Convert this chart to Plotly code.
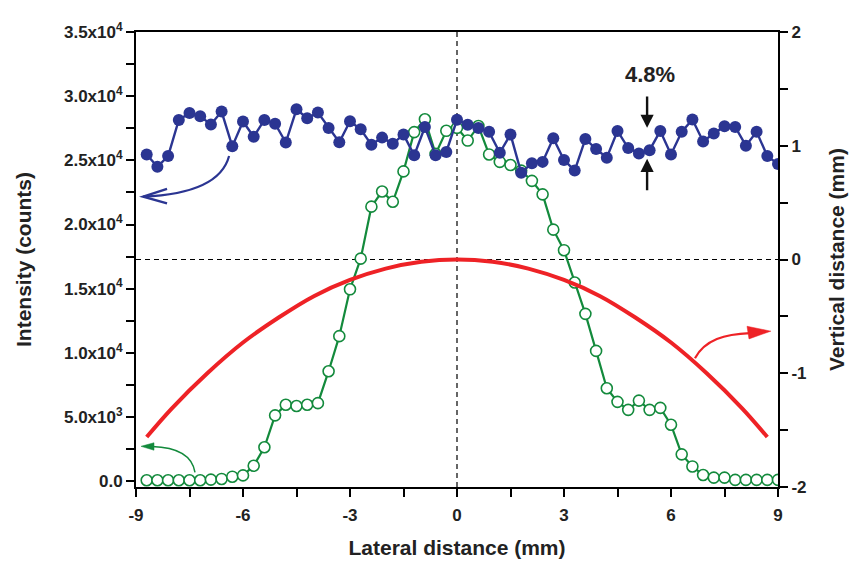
import plotly.graph_objects as go

# ---------------- data ----------------
lateral_mm = [-8.7, -8.4, -8.1, -7.8, -7.5, -7.2, -6.9, -6.6, -6.3, -6.0,
              -5.7, -5.4, -5.1, -4.8, -4.5, -4.2, -3.9, -3.6, -3.3, -3.0,
              -2.7, -2.4, -2.1, -1.8, -1.5, -1.2, -0.9, -0.6, -0.3, 0.0,
              0.3, 0.6, 0.9, 1.2, 1.5, 1.8, 2.1, 2.4, 2.7, 3.0,
              3.3, 3.6, 3.9, 4.2, 4.5, 4.8, 5.1, 5.4, 5.7, 6.0,
              6.3, 6.6, 6.9, 7.2, 7.5, 7.8, 8.1, 8.4, 8.7, 9.0]

intensity_flat = [25460, 24500, 25330, 28150, 28680, 28430, 27800, 28800, 26090, 28030,
                  26840, 28150, 27850, 26390, 28980, 28280, 28730, 27520, 26410, 28050,
                  27420, 26220, 26770, 26290, 27020, 25390, 27600, 25390, 25650, 28160,
                  27770, 27520, 27220, 25590, 27020, 24030, 24780, 24880, 26720, 25030,
                  24200, 26670, 25880, 25210, 27290, 25960, 25540, 25790, 27290, 25460,
                  27220, 28180, 26470, 27090, 27650, 27600, 26140, 27220, 25330, 24710]

intensity_profile = [75, 75, 75, 75, 75, 75, 125, 175, 350, 450,
                     1200, 2640, 5130, 5960, 5860, 5960, 6080, 8570, 11300, 14950,
                     17340, 21390, 22570, 21770, 24140, 27200, 28200, 25500, 27300, 27530,
                     26540, 27670, 25460, 24880, 24640, 24200, 23400, 22350, 19600, 18000,
                     15480, 13040, 10150, 7240, 6180, 5560, 6280, 5560, 5710, 4400,
                     2090, 1150, 480, 280, 280, 100, 100, 100, 100, 100]

curve_x = [-8.7, -8, -7, -6, -5, -4, -3, -2, -1, 0, 1, 2, 3, 4, 5, 6, 7, 8, 8.7]
curve_vertical = [-1.56, -1.31, -1.0, -0.73, -0.51, -0.32, -0.18, -0.08, -0.02, 0.0,
                  -0.02, -0.08, -0.18, -0.32, -0.51, -0.73, -1.0, -1.31, -1.56]

left_tickvals = [0, 5000, 10000, 15000, 20000, 25000, 30000, 35000]
left_ticktext = ["0.0", "5.0x10<sup>3</sup>", "1.0x10<sup>4</sup>", "1.5x10<sup>4</sup>",
                 "2.0x10<sup>4</sup>", "2.5x10<sup>4</sup>", "3.0x10<sup>4</sup>",
                 "3.5x10<sup>4</sup>"]
x_tickvals = [-9, -6, -3, 0, 3, 6, 9]
right_tickvals = [-2, -1, 0, 1, 2]

# ---------------- styles ----------------
NAVY = "#2B3592"
GREEN = "#138A3C"
RED = "#EE2226"
FONT = "Liberation Sans, Arial, Helvetica, sans-serif"
TXT = "#222"

fig = go.Figure()

fig.add_trace(go.Scatter(
    x=curve_x, y=curve_vertical, yaxis="y2", mode="lines",
    line=dict(color=RED, width=4, shape="spline"), showlegend=False))

fig.add_trace(go.Scatter(
    x=lateral_mm, y=intensity_profile, mode="lines+markers",
    line=dict(color=GREEN, width=2.2),
    marker=dict(symbol="circle", size=11, color="white",
                line=dict(color=GREEN, width=1.6)),
    showlegend=False))

fig.add_trace(go.Scatter(
    x=lateral_mm, y=intensity_flat, mode="lines+markers",
    line=dict(color=NAVY, width=2.4),
    marker=dict(symbol="circle", size=12, color=NAVY,
                line=dict(color=NAVY, width=0)),
    showlegend=False))

axis_common = dict(showline=True, linecolor="black", linewidth=2,
                   ticks="outside", ticklen=8, tickwidth=2, tickcolor="black",
                   showgrid=False, zeroline=False,
                   tickfont=dict(family=FONT, size=17, color=TXT, weight="bold"),
                   title_font=dict(family=FONT, size=21, color=TXT, weight="bold"))
minor_common = dict(ticks="outside", ticklen=8, tickwidth=2, tickcolor="black")

fig.update_layout(
    width=850, height=560,
    margin=dict(l=128, r=80, t=14, b=76),
    paper_bgcolor="white", plot_bgcolor="white",
    xaxis=dict(range=[-9, 9], tickmode="array", tickvals=x_tickvals,
               ticktext=[str(v) for v in x_tickvals], ticklabelstandoff=4,
               minor=dict(tickvals=[-7.5, -4.5, -1.5, 1.5, 4.5, 7.5], **minor_common),
               mirror=True, title=dict(text="Lateral distance (mm)", standoff=16),
               **axis_common),
    yaxis=dict(range=[-453, 35000], tickmode="array", tickvals=left_tickvals,
               ticktext=left_ticktext,
               minor=dict(tickvals=[2500, 7500, 12500, 17500, 22500, 27500, 32500],
                          **minor_common),
               title=dict(text="Intensity (counts)", standoff=27),
               **axis_common),
    yaxis2=dict(range=[-2, 2], overlaying="y", side="right", tickmode="array",
                tickvals=right_tickvals, ticktext=[str(v) for v in right_tickvals],
                minor=dict(tickvals=[-1.5, -0.5, 0.5, 1.5], **minor_common),
                title=dict(text="Vertical distance (mm)", standoff=24),
                **axis_common),
)

shapes = []
# dashed guide lines
shapes.append(dict(type="line", xref="x", yref="paper", x0=0, x1=0, y0=0, y1=1,
                   line=dict(color="black", width=1.2, dash="5px,4px"), layer="below"))
shapes.append(dict(type="line", xref="paper", yref="y2", x0=0, x1=1, y0=0, y1=0,
                   line=dict(color="black", width=1.2, dash="5px,4px"), layer="below"))

# curved pointer arrows (decorations)
shapes.append(dict(type="path", xref="x", yref="y",
                   path="M -6.39,25344 C -6.59,23232 -7.49,22327 -8.80,22176",
                   line=dict(color=NAVY, width=2.2)))
shapes.append(dict(type="path", xref="x", yref="y",
                   path="M -8.13,22780 L -8.80,22176 L -8.13,21648",
                   line=dict(color=NAVY, width=2.4)))

shapes.append(dict(type="path", xref="x", yref="y",
                   path="M -7.346,679 C -7.43,2112 -7.907,2640 -8.551,2693",
                   line=dict(color=GREEN, width=1.5)))
shapes.append(dict(type="path", xref="x", yref="y",
                   path="M -8.86,2715 L -8.495,2995 L -8.495,2414 Z",
                   fillcolor=GREEN, line=dict(color=GREEN, width=0.5)))

shapes.append(dict(type="path", xref="x", yref="y2",
                   path="M 6.672,-0.868 C 6.953,-0.706 7.514,-0.655 8.215,-0.647",
                   line=dict(color=RED, width=2.2)))
shapes.append(dict(type="path", xref="x", yref="y2",
                   path="M 8.80,-0.630 L 8.131,-0.587 L 8.187,-0.698 Z",
                   fillcolor=RED, line=dict(color=RED, width=0.5)))

fig.update_layout(shapes=shapes)

annotations = [
    dict(x=5.33, y=27532, ax=5.33, ay=30096, xref="x", yref="y", axref="x", ayref="y",
         text="", showarrow=True, arrowhead=2, arrowsize=1.1, arrowwidth=2.4,
         arrowcolor="#111"),
    dict(x=5.33, y=25118, ax=5.33, ay=22554, xref="x", yref="y", axref="x", ayref="y",
         text="", showarrow=True, arrowhead=2, arrowsize=1.1, arrowwidth=2.4,
         arrowcolor="#111"),
    dict(x=5.41, y=31700, xref="x", yref="y", text="4.8%", showarrow=False,
         font=dict(family=FONT, size=22, color=TXT, weight="bold")),
]
fig.update_layout(annotations=annotations)

fig.write_html("out.html")
